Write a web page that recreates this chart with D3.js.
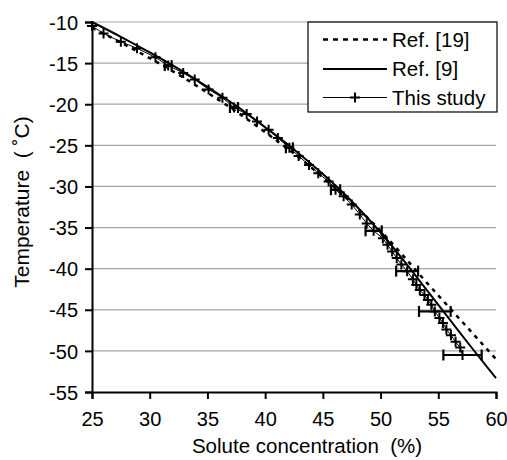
<!DOCTYPE html>
<html>
<head>
<meta charset="utf-8">
<script src="https://cdn.jsdelivr.net/npm/d3@7"></script>
<style>
  html, body { margin: 0; padding: 0; background: #fff; }
  svg { display: block; font-family: "Liberation Sans", Arial, sans-serif; }
  text { white-space: pre; }
</style>
</head>
<body>
<svg id="chart" width="507" height="460"></svg>
<script>
// Tick values
const xTicks = [25, 30, 35, 40, 45, 50, 55, 60];
const yTicks = [-10, -15, -20, -25, -30, -35, -40, -45, -50, -55];

// Ref. [19] liquidus curve (concentration %, temperature °C)
const ref19Conc = [25, 27.5, 30, 32.5, 35, 37.5, 40, 42.5, 45, 47.5, 50, 52, 54, 56, 58, 60];
const ref19Temp = [-10.7, -12.5, -14.4, -16.4, -18.6, -20.9, -23.4, -26.0, -28.9, -32.0, -35.4, -38.5, -41.7, -44.8, -47.9, -51.0];

// Ref. [9] liquidus curve
const ref9Conc = [25, 27.5, 30, 32.5, 35, 37.5, 40, 42.5, 45, 47.5, 50, 52, 54, 56, 58, 60];
const ref9Temp = [-10.0, -11.8, -13.7, -15.7, -17.9, -20.2, -22.8, -25.5, -28.5, -31.8, -35.6, -39.0, -42.6, -46.2, -49.8, -53.3];

// This study: measured points and horizontal uncertainty (0 = no error bar)
const studyConc = [25.0, 26.0, 27.5, 28.9, 30.5, 31.6, 32.9, 33.9, 35.1, 36.3, 37.3, 38.4, 39.3, 40.3, 41.1,
                   42.1, 42.9, 43.8, 44.6, 45.5, 46.1, 46.8, 47.5, 48.2, 48.8, 49.4, 50.2, 50.6, 51.0, 51.4,
                   51.8, 52.3, 52.8, 53.1, 53.4, 53.8, 54.1, 54.4, 54.7, 55.1, 55.4, 55.7, 56.1, 56.5, 56.9, 57.1];
const studyTemp = [-10.5, -11.4, -12.4, -13.2, -14.3, -15.3, -16.2, -17.0, -18.2, -19.2, -20.4, -21.2, -22.1, -23.1, -24.1,
                   -25.3, -26.3, -27.4, -28.4, -29.4, -30.4, -31.2, -32.2, -33.4, -34.5, -35.4, -36.3, -37.1, -37.9, -38.7,
                   -39.5, -40.3, -41.3, -42.0, -42.6, -43.2, -43.8, -44.4, -45.2, -46.0, -46.6, -47.4, -48.1, -48.9, -49.6, -50.5];
const studyErr  = [0, 0, 0, 0, 0, 0.3, 0, 0, 0, 0, 0.35, 0, 0, 0, 0,
                   0.3, 0, 0, 0, 0, 0.4, 0, 0, 0, 0, 0.7, 0, 0, 0, 0,
                   0, 0.95, 0, 0, 0, 0, 0, 0, 1.37, 0, 0, 0, 0, 0, 0, 1.66];

const seriesNames = ["Ref. [19]", "Ref. [9]", "This study"];

const svg = d3.select("#chart");
const x = d3.scaleLinear().domain([25, 60]).range([92, 496]);
const y = d3.scaleLinear().domain([-55, -10]).range([392, 22]);
const FONT = "20px";

// Horizontal gridlines
svg.append("g")
  .selectAll("line")
  .data(yTicks.filter(t => t !== -55))
  .join("line")
  .attr("x1", x(25)).attr("x2", x(60))
  .attr("y1", d => y(d)).attr("y2", d => y(d))
  .attr("stroke", "#a6a6a6").attr("stroke-width", 1.2);

// Axes
const xAxis = svg.append("g")
  .attr("transform", `translate(0,${y(-55)})`)
  .call(d3.axisBottom(x).tickValues(xTicks).tickSize(7).tickPadding(13).tickFormat(d3.format("d")));
const yAxis = svg.append("g")
  .attr("transform", `translate(${x(25)},0)`)
  .call(d3.axisLeft(y).tickValues(yTicks).tickSize(7).tickPadding(7).tickFormat(d => d.toString().replace("\u2212", "-")));

[xAxis, yAxis].forEach(g => {
  g.select(".domain").attr("stroke", "#000").attr("stroke-width", 2);
  g.selectAll(".tick line").attr("stroke", "#000").attr("stroke-width", 2);
  g.selectAll(".tick text").attr("fill", "#000").style("font-size", FONT)
    .style("font-family", "'Liberation Sans', Arial, sans-serif");
});
yAxis.selectAll(".tick text").attr("dy", "0.36em");

// Axis titles
svg.append("text")
  .attr("x", 307).attr("y", 453)
  .attr("text-anchor", "middle")
  .style("font-size", "20.5px")
  .text("Solute concentration  (%)");
svg.append("text")
  .attr("transform", `translate(29,202) rotate(-90)`)
  .attr("text-anchor", "middle")
  .style("font-size", "21px")
  .text("Temperature  ( \u02daC)");

// Reference curves
const curveLine = d3.line().x(d => x(d[0])).y(d => y(d[1])).curve(d3.curveMonotoneX);
const ref19 = ref19Conc.map((c, i) => [c, ref19Temp[i]]);
const ref9 = ref9Conc.map((c, i) => [c, ref9Temp[i]]);

svg.append("path").datum(ref19)
  .attr("d", curveLine)
  .attr("fill", "none").attr("stroke", "#000")
  .attr("stroke-width", 2.5).attr("stroke-dasharray", "4,5");

svg.append("path").datum(ref9)
  .attr("d", curveLine)
  .attr("fill", "none").attr("stroke", "#000").attr("stroke-width", 2);

// This study: connecting line, error bars, + markers
const study = studyConc.map((c, i) => ({ c, t: studyTemp[i], e: studyErr[i] }));
svg.append("path").datum(study)
  .attr("d", d3.line().x(d => x(d.c)).y(d => y(d.t)))
  .attr("fill", "none").attr("stroke", "#000").attr("stroke-width", 1);

const bars = svg.append("g").selectAll("g")
  .data(study.filter(d => d.e > 0))
  .join("g")
  .attr("stroke", "#000").attr("stroke-width", 2.2);
bars.append("line")
  .attr("x1", d => x(d.c - d.e)).attr("x2", d => x(d.c + d.e))
  .attr("y1", d => y(d.t)).attr("y2", d => y(d.t));
bars.append("line")
  .attr("x1", d => x(d.c - d.e)).attr("x2", d => x(d.c - d.e))
  .attr("y1", d => y(d.t) - 5.5).attr("y2", d => y(d.t) + 5.5);
bars.append("line")
  .attr("x1", d => x(d.c + d.e)).attr("x2", d => x(d.c + d.e))
  .attr("y1", d => y(d.t) - 5.5).attr("y2", d => y(d.t) + 5.5);

const plusPath = "M-5,0H5M0,-5V5";
svg.append("g").selectAll("path")
  .data(study)
  .join("path")
  .attr("transform", d => `translate(${x(d.c)},${y(d.t)})`)
  .attr("d", plusPath)
  .attr("stroke", "#000").attr("stroke-width", 2).attr("fill", "none");

// Legend
const legend = svg.append("g");
legend.append("rect")
  .attr("x", 308).attr("y", 22).attr("width", 189).attr("height", 90)
  .attr("fill", "#fff").attr("stroke", "#000").attr("stroke-width", 1.2);
const rows = [39.5, 69, 97.5];
const sx0 = 323, sx1 = 387;
legend.append("line")
  .attr("x1", sx0).attr("x2", sx1).attr("y1", rows[0]).attr("y2", rows[0])
  .attr("stroke", "#000").attr("stroke-width", 2.5).attr("stroke-dasharray", "5,5");
legend.append("line")
  .attr("x1", sx0).attr("x2", sx1).attr("y1", rows[1]).attr("y2", rows[1])
  .attr("stroke", "#000").attr("stroke-width", 2);
legend.append("line")
  .attr("x1", sx0).attr("x2", sx1).attr("y1", rows[2]).attr("y2", rows[2])
  .attr("stroke", "#000").attr("stroke-width", 1);
legend.append("path")
  .attr("transform", `translate(${(sx0 + sx1) / 2},${rows[2]})`)
  .attr("d", plusPath)
  .attr("stroke", "#000").attr("stroke-width", 2);
legend.selectAll("text.lbl")
  .data(seriesNames)
  .join("text")
  .attr("class", "lbl")
  .attr("x", 392).attr("y", (d, i) => rows[i])
  .attr("dy", "0.36em")
  .style("font-size", "20.5px")
  .text(d => d);
</script>
</body>
</html>
